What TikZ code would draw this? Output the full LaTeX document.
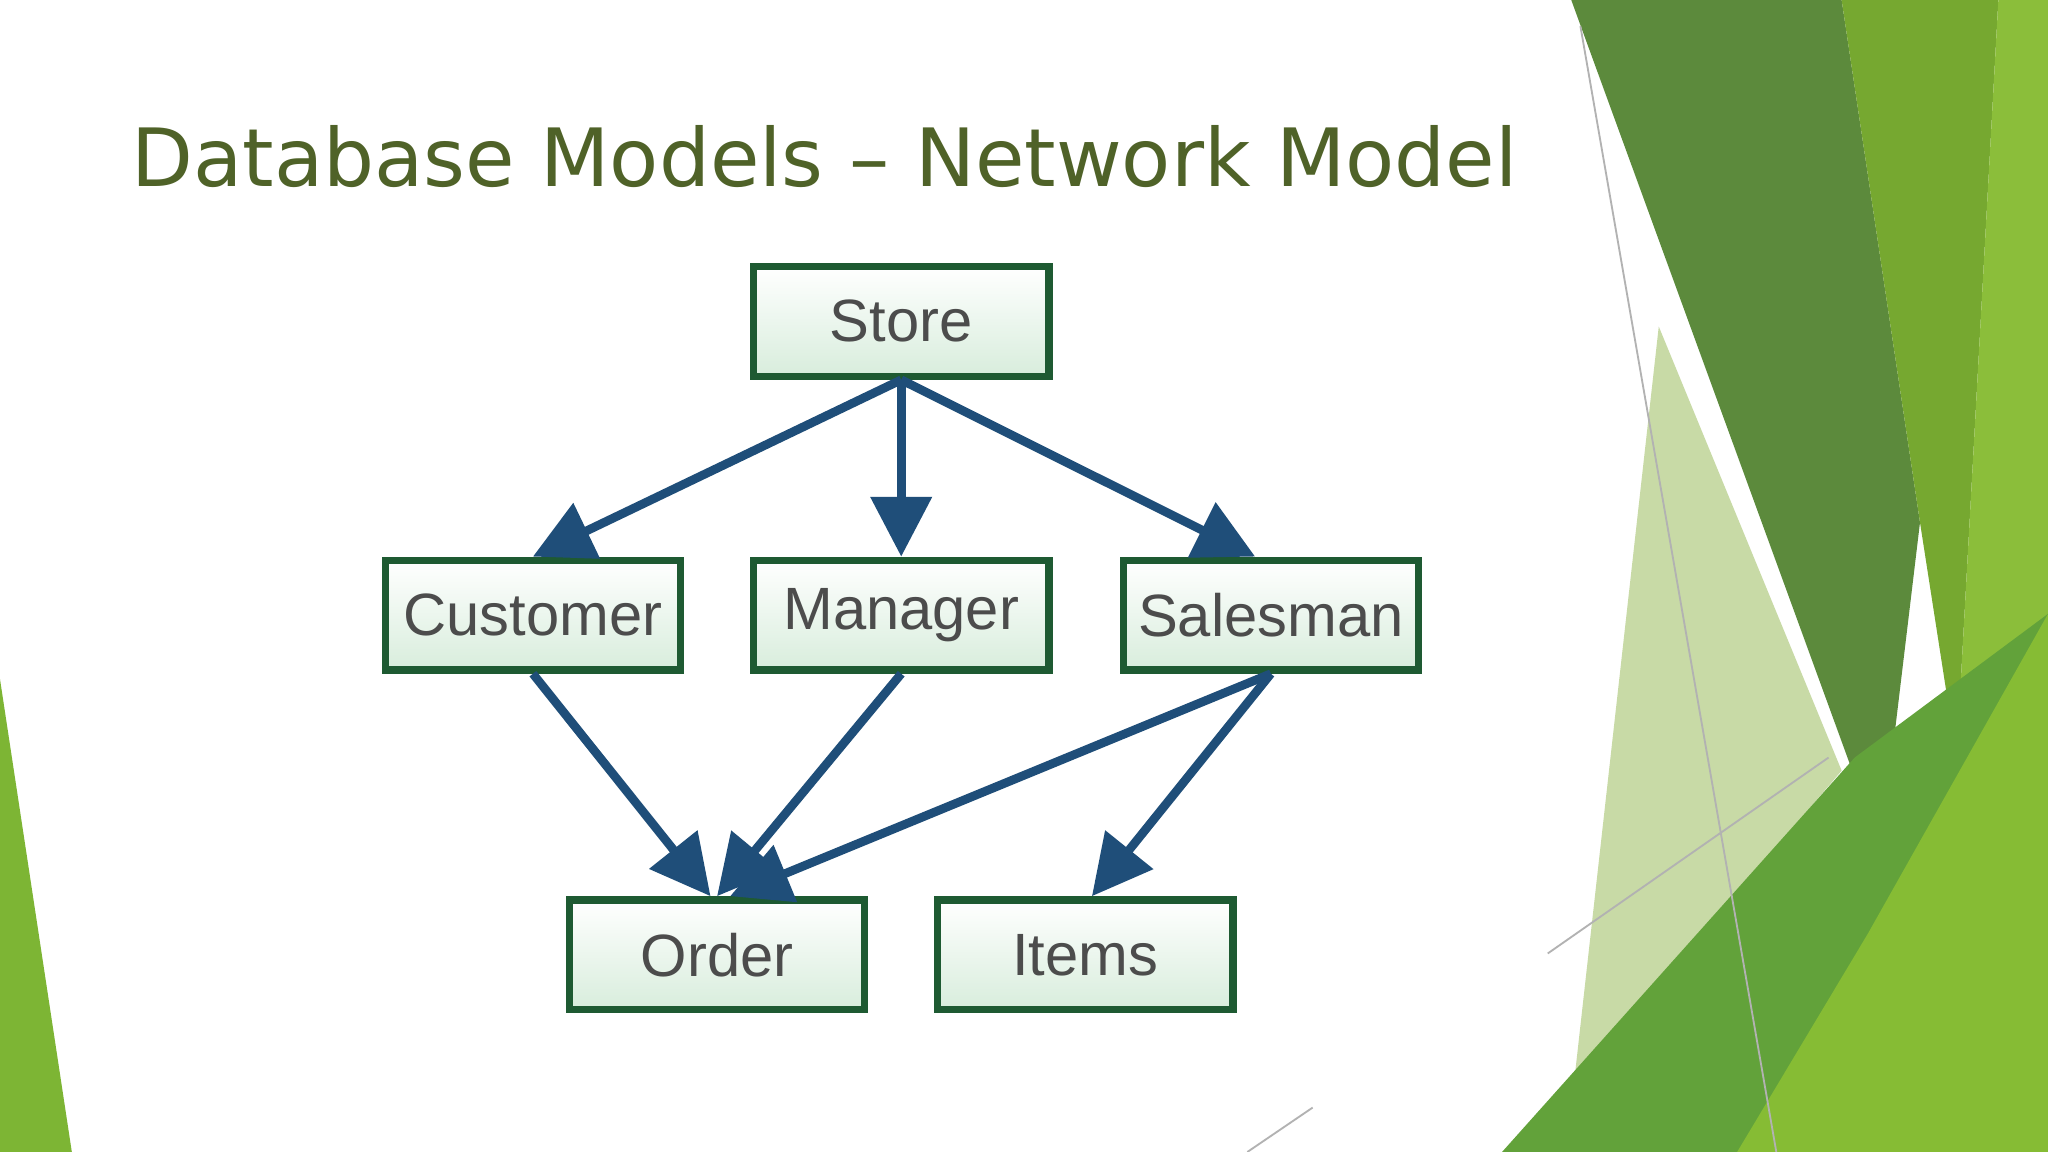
\documentclass[tikz,border=0pt]{standalone}
\usepackage{fontspec}
\setmainfont{Liberation Sans}
\newfontfamily\titlefont{DejaVu Sans}
\usetikzlibrary{arrows.meta}
\definecolor{boxline}{HTML}{1E5A32}
\definecolor{arr}{HTML}{1F4E79}
\definecolor{ttl}{HTML}{4F6228}
\definecolor{gA}{HTML}{C8DAA6}
\definecolor{gB}{HTML}{5C8A3C}
\definecolor{gC}{HTML}{76A830}
\definecolor{gD}{HTML}{8BBE3A}
\definecolor{gE}{HTML}{62A23A}
\definecolor{gF}{HTML}{86BC34}
\definecolor{gL}{HTML}{7DB534}
\definecolor{boxfill}{HTML}{D8EDDC}
\begin{document}
\begin{tikzpicture}[x=0.01cm,y=-0.01cm,
  box/.style={draw=boxline,line width=1.6pt,minimum width=2.26cm,minimum height=0.84cm,
    top color=white,bottom color=boxfill,text=black!70,font=\fontsize{13pt}{15pt}\selectfont,inner sep=0pt},
  con/.style={draw=arr,line width=1.9pt,-{Triangle[length=13pt,width=13pt]}}]
\useasboundingbox (0,0) rectangle (1568,882);
\fill[white] (0,0) rectangle (1568,882);
% decorations
\fill[gL] (0,520) -- (55,882) -- (0,882) -- cycle;
\fill[gA] (1270,250) -- (1410,590) -- (1205,830) -- cycle;
\fill[gB] (1203,0) -- (1410,0) -- (1470,400) -- (1440,650) -- cycle;
\fill[gC] (1410,0) -- (1530,0) -- (1498,580) -- (1470,400) -- cycle;
\fill[gD] (1530,0) -- (1568,0) -- (1568,882) -- (1460,882) -- (1498,580) -- cycle;
\fill[gE] (1150,882) -- (1420,580) -- (1568,470) -- (1568,882) -- cycle;
\fill[gF] (1330,882) -- (1430,715) -- (1568,470) -- (1568,882) -- cycle;
\draw[gray!60,line width=0.4pt] (1210,20) -- (1360,882);
\draw[gray!60,line width=0.4pt] (1185,730) -- (1400,580);
\draw[gray!60,line width=0.4pt] (955,882) -- (1005,848);
% title
\node[anchor=base west,text=ttl,inner sep=0pt,font=\titlefont\fontsize{17.5pt}{20pt}\selectfont] (title) at (100,143) {Database Models – Network Model};
% boxes
\node[box] (store) at (690,246) {Store};
\node[box] (cust) at (408,471) {Customer};
\node[box] (man) at (690,471) {Manager};
\node[box] (sales) at (973,471) {Salesman};
\node[box] (order) at (549,731) {Order};
\node[box] (items) at (831,731) {Items};
\draw[con] (store.south) -- (cust.north);
\draw[con] (store.south) -- (man.north);
\draw[con] (store.south) -- ([xshift=-0.12cm]sales.north);
\draw[con] (cust.south) -- ([xshift=-0.05cm]order.north);
\draw[con] (man.south) -- (order.north);
\draw[con] (sales.south) -- ([xshift=0.1cm]order.north);
\draw[con] (sales.south) -- ([xshift=0.05cm]items.north);
\end{tikzpicture}
\end{document}
